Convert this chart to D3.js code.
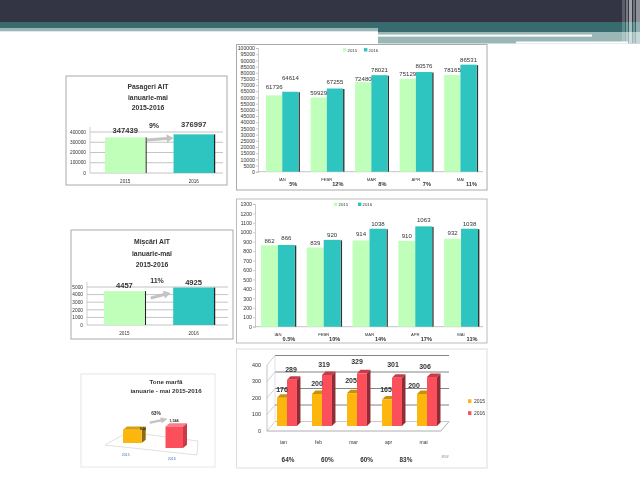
<!DOCTYPE html>
<html>
<head>
	<meta charset="utf-8">
	<title>AIT 2015-2016</title>
	<script src="https://cdn.jsdelivr.net/npm/d3@7"></script>
	<style>
		html, body { margin: 0; padding: 0; background: #fff; }
		svg { display: block; filter: blur(0.45px); }
		text { font-family: "Liberation Sans", sans-serif; }
	</style>
</head>
<body>
<svg id="slide" width="640" height="480"></svg>
<script>
var months = ["IAN", "FEBR", "MAR", "APR", "MAI"];
var monthsLower = ["ian", "feb", "mar", "apr", "mai"];
var years = ["2015", "2016"];

var pasageri2015 = [61736, 59929, 72480, 75129, 78165];
var pasageri2016 = [64614, 67255, 78021, 80576, 86531];
var pasageriPct = ["5%", "12%", "8%", "7%", "11%"];
var pasageriTotal = [347439, 376997];
var pasageriTicks = d3.range(0, 100001, 5000);

var miscari2015 = [862, 839, 914, 910, 932];
var miscari2016 = [866, 920, 1038, 1063, 1038];
var miscariPct = ["0.5%", "10%", "14%", "17%", "11%"];
var miscariTotal = [4457, 4925];
var miscariTicks = d3.range(0, 1301, 100);

var marfa2015 = [176, 200, 205, 165, 200];
var marfa2016 = [289, 319, 329, 301, 306];
var marfaPct = ["64%", "60%", "60%", "83%"];
var marfaTotal = [946, 1544];
var marfaTotalLabels = ["946", "1,544"];

var GREEN = "#bfffb9", TEAL = "#2ec4c0", ORANGE = "#fdb60d", RED = "#fb4f5c";

var svg = d3.select("#slide");

/* slide header */
function band(x, y, w, h, c) {
	svg.append("rect").attr("x", x).attr("y", y).attr("width", w).attr("height", h).attr("fill", c);
}
band(0, 0, 640, 22, "#333544");
band(0, 22, 378, 6, "#386b6e");
band(0, 28, 378, 3.3, "#9ab6b7");
band(378, 22, 262, 10, "#386b6e");
band(378, 32, 262, 11.5, "#9ab6b7");
band(378, 34.6, 214, 2, "#ffffff");
band(516, 41.5, 112, 2, "#ffffff");
[[622, 3, "#ffffff", 0.2], [626, 2, "#ffffff", 0.35], [629, 3, "#ffffff", 0.55], [633, 2, "#ffffff", 0.3], [636, 4, "#ffffff", 0.45]].forEach(function(s) {
	svg.append("rect").attr("x", s[0]).attr("y", 0).attr("width", s[1]).attr("height", 43)
		.attr("fill", s[2]).attr("opacity", s[3]);
});

function frame(b, c) {
	svg.append("rect").attr("x", b[0]).attr("y", b[1]).attr("width", b[2] - b[0]).attr("height", b[3] - b[1])
		.attr("fill", "#fff").attr("stroke", c).attr("stroke-width", 1);
}

function label(x, y, t, size, opt) {
	opt = opt || {};
	var s = svg.append("text").attr("x", x).attr("y", y).text(t)
		.attr("font-size", size)
		.attr("text-anchor", opt.anchor || "middle")
		.attr("font-weight", opt.bold ? "bold" : "normal")
		.attr("fill", opt.fill || "#333");
	if (opt.narrow) s.style("font-family", '"Liberation Sans Narrow", "Liberation Sans", sans-serif');
	return s;
}

/* monthly 2D clustered chart */
function monthly(cfg) {
	frame(cfg.box, cfg.frame);
	var y = d3.scaleLinear().domain(cfg.domain).range([cfg.y0, cfg.y1]);
	var x = d3.scaleBand().domain(months).range(cfg.bars).paddingInner(cfg.padIn).paddingOuter(0);
	var inner = d3.scaleBand().domain(years).range([0, x.bandwidth()]);

	var g = svg.append("g");
	var ax = g.append("g").attr("transform", "translate(" + cfg.x0 + ",0)")
		.call(d3.axisLeft(y).tickValues(cfg.ticks).tickSize(2).tickFormat(d3.format("d")));
	ax.selectAll("text").attr("font-size", 5.2).attr("fill", "#333").attr("x", -3);
	ax.selectAll("line,path").attr("stroke", "#aaa").attr("stroke-width", 0.6);

	var bl = g.append("line").attr("x1", cfg.x0).attr("x2", cfg.x1).attr("y1", cfg.y0).attr("y2", cfg.y0)
		.attr("stroke", "#aaa").attr("stroke-width", 0.7);

	months.forEach(function(m, i) {
		var a = cfg.a[i], b = cfg.b[i];
		var bw = inner.bandwidth();
		g.append("rect").attr("x", x(m) + inner("2016") + bw).attr("y", y(b) + 0.5)
			.attr("width", 1.4).attr("height", cfg.y0 - y(b) - 0.5).attr("fill", "#333");
		g.append("rect").attr("x", x(m)).attr("y", y(a)).attr("width", bw)
			.attr("height", cfg.y0 - y(a)).attr("fill", GREEN);
		g.append("rect").attr("x", x(m) + inner("2016")).attr("y", y(b)).attr("width", bw)
			.attr("height", cfg.y0 - y(b)).attr("fill", TEAL);
		label(x(m) + bw * 0.5, y(a) - cfg.gapA[i], a, 6.1);
		label(x(m) + bw * 1.5, y(b) - cfg.gapB[i], b, 6.1);
		label(x(m) + bw, cfg.y0 + 9.2, m, 4.2);
		label(x(m) + bw + 11, cfg.y0 + 14.7, cfg.pct[i], 5.6, { bold: true });
	});

	years.forEach(function(yr, i) {
		g.append("rect").attr("x", cfg.legend + i * cfg.legendStep).attr("y", cfg.box[1] + 3.6).attr("width", 3.4).attr("height", 3.4)
			.attr("fill", i ? TEAL : GREEN);
		label(cfg.legend + 4.5 + i * cfg.legendStep, cfg.box[1] + 7, yr, 4.3, { anchor: "start" });
	});
}

monthly({
	box: [236.5, 44.5, 487, 190], frame: "#aaa", x0: 258, x1: 483, y0: 171.7, y1: 48, domain: [0, 100000], ticks: pasageriTicks,
	bars: [266, 476.7], padIn: 0.27,
	a: pasageri2015, b: pasageri2016, pct: pasageriPct,
	gapA: [6.6, 3, 1.5, 3, 3], gapB: [12, 4.4, 2.7, 4, 3], legend: 343, legendStep: 21
});
monthly({
	box: [236.5, 199, 487, 343], frame: "#bbb", x0: 255, x1: 483, y0: 326.7, y1: 204, domain: [0, 1300], ticks: miscariTicks,
	bars: [261, 478], padIn: 0.26,
	a: miscari2015, b: miscari2016, pct: miscariPct,
	gapA: [2, 3, 4, 2.5, 4], gapB: [5, 3, 3, 4, 3], legend: 334, legendStep: 24
});

/* small total chart */
function totals(cfg) {
	frame(cfg.box, "#aaa");
	cfg.title.forEach(function(t, i) {
		label(cfg.titleX, cfg.titleY[i], t, 6.8, { bold: true });
	});
	var y = d3.scaleLinear().domain(cfg.domain).range([cfg.y0, cfg.y1]);
	var x = d3.scaleBand().domain(years).range(cfg.bars).paddingInner(0.41).paddingOuter(0);

	cfg.ticks.forEach(function(t) {
		svg.append("line").attr("x1", cfg.x0).attr("x2", cfg.x1).attr("y1", y(t)).attr("y2", y(t))
			.attr("stroke", "#c4c4c4").attr("stroke-width", 1);
		label(cfg.x0 - 4, y(t) + 1.7, t, 4.8, { anchor: "end" });
	});
	svg.append("line").attr("x1", cfg.x0).attr("x2", cfg.x0).attr("y1", cfg.y0).attr("y2", cfg.y1 - 5)
		.attr("stroke", "#bbb").attr("stroke-width", 0.7);

	years.forEach(function(yr, i) {
		var v = cfg.values[i];
		svg.append("rect").attr("x", x(yr) + x.bandwidth()).attr("y", y(v)).attr("width", 1.2)
			.attr("height", cfg.y0 - y(v)).attr("fill", "#222");
		svg.append("rect").attr("x", x(yr)).attr("y", y(v)).attr("width", x.bandwidth())
			.attr("height", cfg.y0 - y(v)).attr("fill", i ? TEAL : GREEN);
		label(x(yr) + x.bandwidth() / 2, y(v) - cfg.valGap[i], v, 7.6, { bold: true });
		label(x(yr) + x.bandwidth() / 2, cfg.y0 + 10.3, yr, 4.6);
	});
	label(cfg.pct[1], cfg.pct[2], cfg.pct[0], 7, { bold: true });
	arrow(cfg.arrow[0], cfg.arrow[1], cfg.arrow[2], cfg.arrow[3], 2.5);
}

function arrow(x0, y0, x1, y1, w) {
	var a = Math.atan2(y1 - y0, x1 - x0), nx = -Math.sin(a), ny = Math.cos(a);
	var hx = x1 - Math.cos(a) * 6, hy = y1 - Math.sin(a) * 6;
	var pts = [
		[x0 + nx * w / 2, y0 + ny * w / 2], [hx + nx * w / 2, hy + ny * w / 2], [hx + nx * w * 1.5, hy + ny * w * 1.5],
		[x1, y1],
		[hx - nx * w * 1.5, hy - ny * w * 1.5], [hx - nx * w / 2, hy - ny * w / 2], [x0 - nx * w / 2, y0 - ny * w / 2]
	];
	svg.append("path").attr("d", d3.line()(pts) + "Z").attr("fill", "#c4c4c4").attr("stroke", "#aaa").attr("stroke-width", 0.3);
}

totals({
	box: [66, 76, 227, 185], title: ["Pasageri AIT", "ianuarie-mai", "2015-2016"], titleX: 148, titleY: [88.5, 99.5, 110],
	x0: 90, x1: 223, y0: 173, y1: 132, domain: [0, 400000], ticks: [0, 100000, 200000, 300000, 400000], bars: [105, 214],
	values: pasageriTotal, valGap: [4.5, 7], pct: ["9%", 154, 128], arrow: [147, 140, 173, 138]
});
totals({
	box: [71, 230, 233, 339], title: ["Mișcări AIT", "ianuarie-mai", "2015-2016"], titleX: 152, titleY: [243.5, 255.5, 266.5],
	x0: 87, x1: 228, y0: 325, y1: 287, domain: [0, 5000], ticks: [0, 1000, 2000, 3000, 4000, 5000], bars: [104, 214],
	values: miscariTotal, valGap: [3.5, 3], pct: ["11%", 157, 282.7], arrow: [151, 298, 170, 293]
});

/* 3D monthly tonnage chart */
function prism(x, w, yTop, yBase, c, dark, top) {
	var d = 3.5;
	svg.append("path").attr("d", d3.line()([[x + w, yTop], [x + w + d, yTop - d], [x + w + d, yBase - d], [x + w, yBase]]) + "Z").attr("fill", dark);
	svg.append("path").attr("d", d3.line()([[x, yTop], [x + d, yTop - d], [x + w + d, yTop - d], [x + w, yTop]]) + "Z").attr("fill", top);
	svg.append("rect").attr("x", x).attr("y", yTop).attr("width", w).attr("height", yBase - yTop).attr("fill", c);
}

(function() {
	frame([236.5, 349, 487, 468], "#ddd");
	var y = d3.scaleLinear().domain([0, 400]).range([431, 365]);
	var dx = 8, dy = -9.5;
	var xl = 267, xr = 441;

	y.ticks(4).forEach(function(t) {
		var yy = y(t);
		svg.append("line").attr("x1", xl).attr("x2", xl + dx).attr("y1", yy).attr("y2", yy + dy)
			.attr("stroke", "#bbb").attr("stroke-width", 0.7);
		svg.append("line").attr("x1", xl + dx).attr("x2", xr + dx).attr("y1", yy + dy).attr("y2", yy + dy)
			.attr("stroke", t ? "#666" : "#bbb").attr("stroke-width", 0.8);
		label(xl - 6, yy + 1.9, t, 5.4, { anchor: "end", narrow: true });
	});
	svg.append("line").attr("x1", xl).attr("x2", xl).attr("y1", y(0)).attr("y2", y(400)).attr("stroke", "#aaa").attr("stroke-width", 0.7);
	svg.append("line").attr("x1", xl + dx).attr("x2", xl + dx).attr("y1", y(0) + dy).attr("y2", y(400) + dy).attr("stroke", "#ccc").attr("stroke-width", 0.6);
	svg.append("path").attr("fill", "none").attr("stroke", "#999").attr("stroke-width", 0.8)
		.attr("d", d3.line()([[xl, y(0)], [xr, y(0)], [xr + dx, y(0) + dy]]));

	var x = d3.scaleBand().domain(monthsLower).range([277, 437]).paddingInner(0.43).paddingOuter(0);
	var w = x.bandwidth() / 2;
	var base = 426;
	var h = d3.scaleLinear().domain([0, 400]).range([base, base - 64]);
	var gapA = [6, 8, 10, 7.6, 6.5], gapB = [7.3, 8, 9.4, 11, 8];
	var shiftA = [5, 5, 4, 4, -3], shiftB = [4, 2, 0, 1, -2];
	monthsLower.forEach(function(m, i) {
		var a = marfa2015[i], b = marfa2016[i];
		prism(x(m), w, h(a), base, ORANGE, "#8f6a08", "#c99107");
		prism(x(m) + w, w, h(b), base, RED, "#8e2d36", "#c93b48");
		label(x(m) + shiftA[i], h(a) - gapA[i], a, 7, { bold: true, narrow: true });
		label(x(m) + w + shiftB[i], h(b) - gapB[i], b, 7, { bold: true, narrow: true });
		label(x(m) + 6.5, 444, m, 5, { narrow: true });
		if (i < marfaPct.length) label(x(m) + 11 + i * 4.3, 461.7, marfaPct[i], 6.4, { bold: true, narrow: true });
	});
	label(445, 458, "####", 3.2);

	years.forEach(function(yr, i) {
		svg.append("rect").attr("x", 468).attr("y", 399.2 + i * 12).attr("width", 3.4).attr("height", 3.8).attr("fill", i ? RED : ORANGE);
		label(474, 403.2 + i * 12, yr, 5, { anchor: "start", narrow: true });
	});
})();

/* small 3D tonnage chart */
(function() {
	frame([81, 374, 215, 467], "#e6e6e6");
	label(166, 384.3, "Tone marfă", 6.2, { bold: true });
	label(166, 392.7, "ianuarie - mai 2015-2016", 6.2, { bold: true });
	svg.append("path").attr("fill", "#fff").attr("stroke", "#d8d8d8").attr("stroke-width", 0.8)
		.attr("d", d3.line()([[105, 445], [128, 432], [198, 441], [197, 455]]) + "Z");

	var h = d3.scaleLinear().domain([0, 1600]).range([0, 22.3]);
	var xs = [123, 165.5], w = [18.7, 17.5], bases = [443, 448];
	years.forEach(function(yr, i) {
		var t = bases[i] - h(marfaTotal[i]);
		var c = i ? RED : ORANGE, d = i ? "#c93b48" : "#8f6a08", u = i ? "#f77f87" : "#d99f0a";
		svg.append("path").attr("fill", d).attr("d", d3.line()([[xs[i] + w[i], t], [xs[i] + w[i] + 4, t - 3.3], [xs[i] + w[i] + 4, bases[i] - 3.3], [xs[i] + w[i], bases[i]]]) + "Z");
		svg.append("path").attr("fill", u).attr("d", d3.line()([[xs[i], t], [xs[i] + 4, t - 3.3], [xs[i] + w[i] + 4, t - 3.3], [xs[i] + w[i], t]]) + "Z");
		svg.append("rect").attr("x", xs[i]).attr("y", t).attr("width", w[i]).attr("height", bases[i] - t).attr("fill", c);
		label(i ? 174 : 143, i ? 422 : 429.5, marfaTotalLabels[i], 3.8, { bold: true });
		label(i ? 171.7 : 125.7, i ? 460.4 : 456, yr, 3.6, { fill: "#4472c4" });
	});
	label(156, 415, "63%", 4.8, { bold: true });
	arrow(150, 422.7, 167, 419, 1.8);
})();
</script>
</body>
</html>
